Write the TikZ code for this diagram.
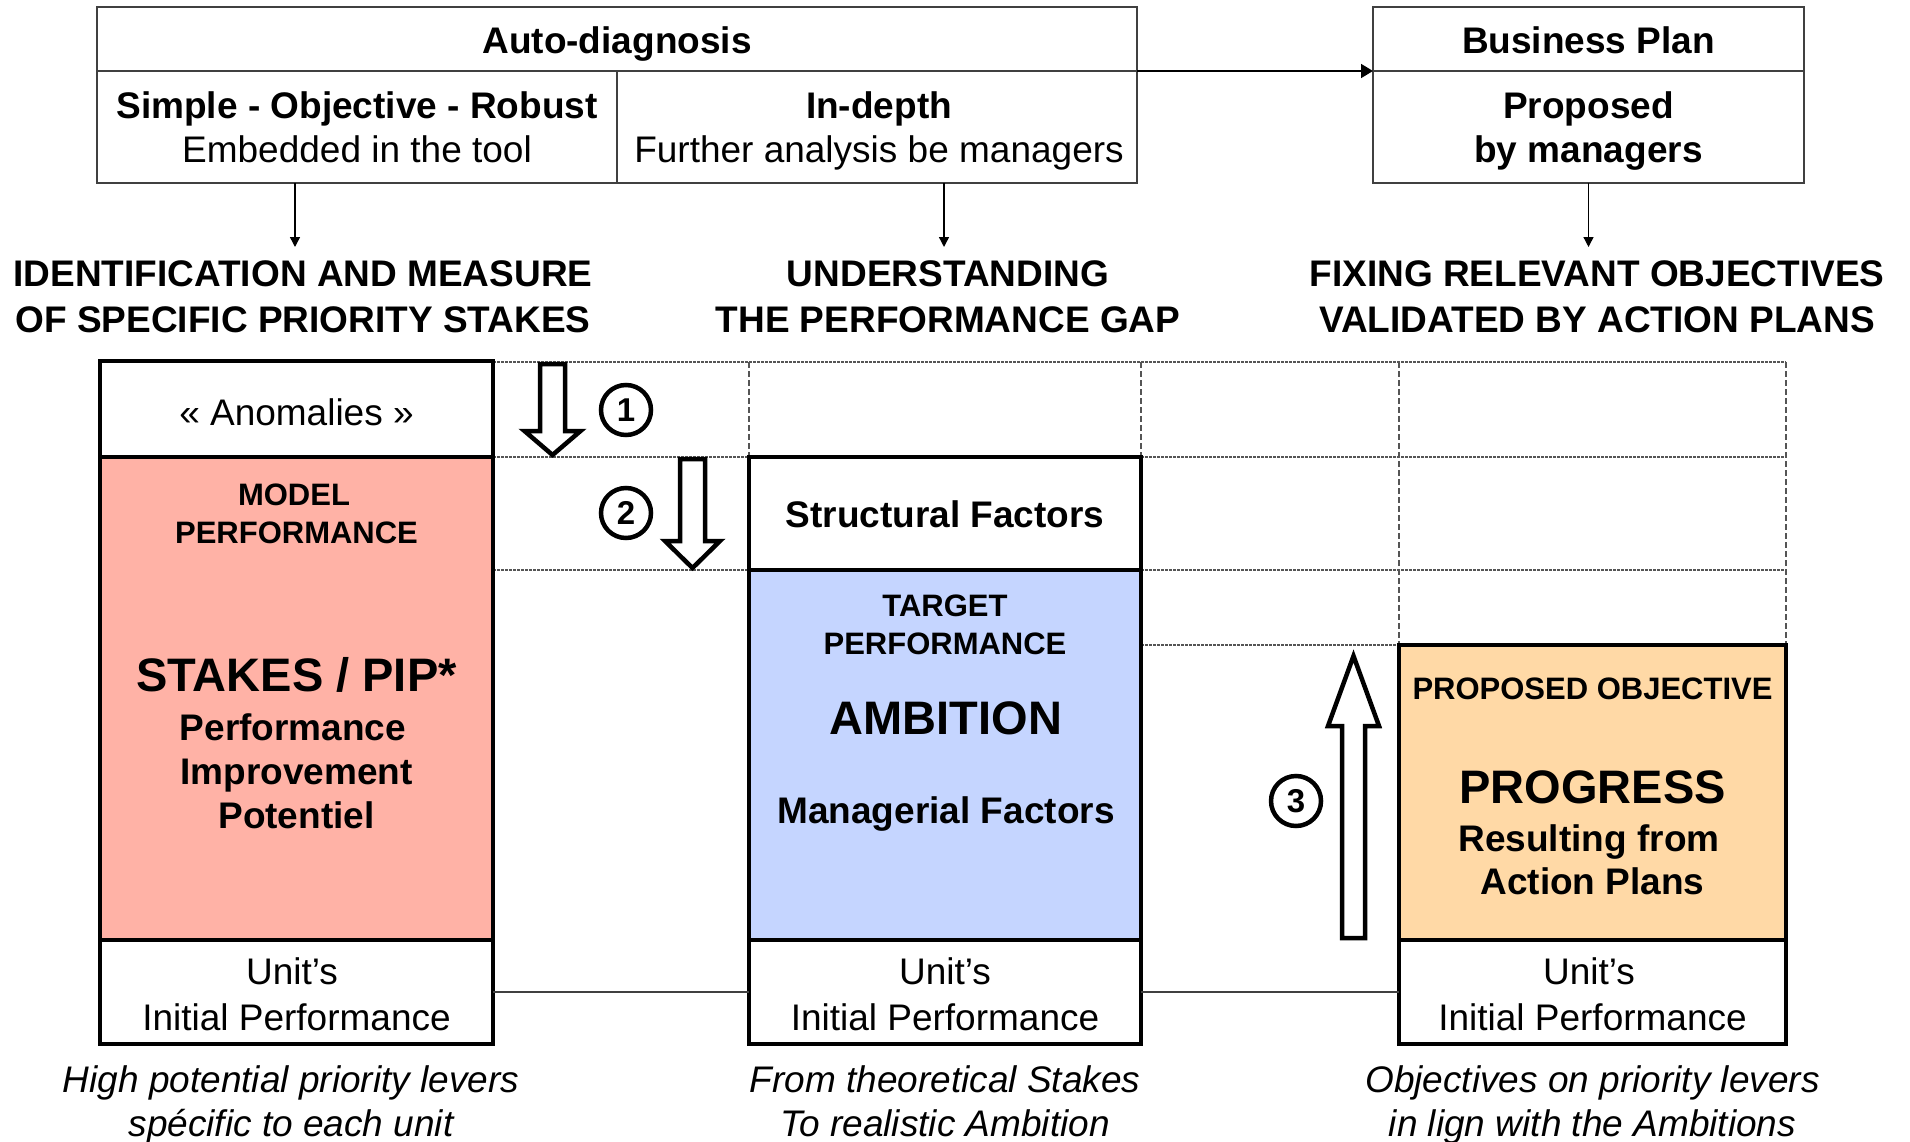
\documentclass[tikz,border=0pt]{standalone}
\usepackage{fontspec}
\setmainfont{Liberation Sans}
\usetikzlibrary{arrows.meta}
\definecolor{stakefill}{RGB}{255,178,166}
\definecolor{ambfill}{RGB}{197,213,255}
\definecolor{progfill}{RGB}{255,217,166}
\definecolor{framegray}{RGB}{64,64,64}
\definecolor{gridgray}{RGB}{85,85,85}
\begin{document}
\begin{tikzpicture}[x=1pt,y=-1pt,
  txt/.style={anchor=base, inner sep=0pt, font=\fontsize{37}{44}\selectfont},
  txtb/.style={txt, font=\fontsize{37}{44}\selectfont\bfseries},
  txtsmall/.style={txt, font=\fontsize{31}{38}\selectfont\bfseries},
  txtbig/.style={txt, font=\fontsize{47}{56}\selectfont\bfseries},
  txtit/.style={txt, font=\fontsize{37}{44}\selectfont\itshape},
  thinbox/.style={draw=framegray, line width=1.5pt, inner sep=0pt, outer sep=0pt},
  thickbox/.style={draw=black, line width=4.5pt, inner sep=0pt, outer sep=0pt},
  conn/.style={draw=black, line width=1.6pt, -{Triangle[length=12pt,width=14pt]}},
  smallconn/.style={draw=black, line width=1.4pt, -{Triangle[length=10pt,width=10pt]}},
  link/.style={draw=framegray, line width=1.5pt},
  gridh/.style={draw=gridgray, line width=1.3pt, dash pattern=on 2.5pt off 1.5pt},
  gridv/.style={draw=gridgray, line width=1.3pt, dash pattern=on 6pt off 3pt},
  blockarrow/.style={draw=black, fill=white, line width=4.5pt, line join=miter},
  numc/.style={circle, draw=black, line width=4.5pt, minimum size=50pt, inner sep=0pt,
    font=\fontsize{33}{33}\selectfont\bfseries}
]
\useasboundingbox (0,0) rectangle (1910,1142);

% ---------- top frames ----------
\node[thinbox, minimum width=1040pt, minimum height=64pt] (autohead) at (617,39) {};
\node[thinbox, minimum width=520pt, minimum height=112pt] (autoL) at (357,127) {};
\node[thinbox, minimum width=520pt, minimum height=112pt] (autoR) at (877,127) {};
\node[thinbox, minimum width=431pt, minimum height=64pt] (bphead) at (1588.5,39) {};
\node[thinbox, minimum width=431pt, minimum height=112pt] (bpbody) at (1588.5,127) {};

\node[txtb] (tAuto) at (617,54) {Auto-diagnosis};
\node[txtb] (tSimple) at (357,119) {Simple - Objective - Robust};
\node[txt]  (tEmbed) at (357,163) {Embedded in the tool};
\node[txtb] (tDepth) at (879,119) {In-depth};
\node[txt]  (tFurther) at (879,163) {Further analysis be managers};
\node[txtb] (tBP) at (1588.5,54) {Business Plan};
\node[txtb] (tProp) at (1588.5,119) {Proposed};
\node[txtb] (tByMan) at (1588.5,163) {by managers};

\draw[conn] (autohead.south east) -- (bphead.south west);

% ---------- headings ----------
\coordinate (tip1) at (295,247);
\coordinate (tip2) at (944,247);
\coordinate (tip3) at (1588.5,247);
\draw[smallconn] (autoL.south -| tip1) -- (tip1);
\draw[smallconn] (autoR.south -| tip2) -- (tip2);
\draw[smallconn] (bpbody.south -| tip3) -- (tip3);

\node[txtb] (h1a) at (303,286) {IDENTIFICATION AND MEASURE};
\node[txtb] (h1b) at (303,332) {OF SPECIFIC PRIORITY STAKES};
\node[txtb] (h2a) at (948,286) {UNDERSTANDING};
\node[txtb] (h2b) at (948,332) {THE PERFORMANCE GAP};
\node[txtb] (h3a) at (1597,286) {FIXING RELEVANT OBJECTIVES};
\node[txtb] (h3b) at (1597,332) {VALIDATED BY ACTION PLANS};

% ---------- guide grid ----------
\draw[gridh] (493,362) -- (1786,362);
\draw[gridh] (493,457) -- (1786,457);
\draw[gridh] (493,570) -- (1786,570);
\draw[gridh] (1141,645) -- (1399,645);
\draw[gridv] (749,362) -- (749,457);
\draw[gridv] (1141,362) -- (1141,457);
\draw[gridv] (1399,362) -- (1399,645);
\draw[gridv] (1786,362) -- (1786,645);

% ---------- performance columns ----------
\node[thickbox, fill=white, minimum width=393pt, minimum height=96pt] (lanom) at (296.5,409) {};
\node[thickbox, fill=stakefill, minimum width=393pt, minimum height=483pt] (lstake) at (296.5,698.5) {};
\node[thickbox, fill=white, minimum width=393pt, minimum height=104pt] (linit) at (296.5,992) {};

\node[thickbox, fill=white, minimum width=392pt, minimum height=113pt] (mstruct) at (945,513.5) {};
\node[thickbox, fill=ambfill, minimum width=392pt, minimum height=370pt] (mamb) at (945,755) {};
\node[thickbox, fill=white, minimum width=392pt, minimum height=104pt] (minit) at (945,992) {};

\node[thickbox, fill=progfill, minimum width=387pt, minimum height=295pt] (rprog) at (1592.5,792.5) {};
\node[thickbox, fill=white, minimum width=387pt, minimum height=104pt] (rinit) at (1592.5,992) {};

\draw[link] (linit.east) -- (minit.west);
\draw[link] (minit.east) -- (rinit.west);

% left column texts
\node[txt] (tAnom) at (296.5,425) {« Anomalies »};
\node[txtsmall] (tModel) at (294,505) {MODEL};
\node[txtsmall] (tModelPerf) at (296.5,543) {PERFORMANCE};
\node[txtbig] (tStakes) at (296.5,691) {STAKES / PIP*};
\node[txtb] (tPerf) at (293,740) {Performance};
\node[txtb] (tImpr) at (296.5,784) {Improvement};
\node[txtb] (tPot) at (296.5,828) {Potentiel};
\node[txt] (tUnitL) at (292,984) {Unit’s};
\node[txt] (tInitL) at (296.5,1030) {Initial Performance};
\node[txtit] (cL1) at (291,1092) {High potential priority levers};
\node[txtit] (cL2) at (291,1136) {spécific to each unit};

% middle column texts
\node[txtb] (tStruct) at (945,527) {Structural Factors};
\node[txtsmall] (tTarget) at (945,616) {TARGET};
\node[txtsmall] (tTargetPerf) at (945,654) {PERFORMANCE};
\node[txtbig] (tAmb) at (946,734) {AMBITION};
\node[txtb] (tMan) at (946,823) {Managerial Factors};
\node[txt] (tUnitM) at (945,984) {Unit’s};
\node[txt] (tInitM) at (945,1030) {Initial Performance};
\node[txtit] (cM1) at (945,1092) {From theoretical Stakes};
\node[txtit] (cM2) at (945,1136) {To realistic Ambition};

% right column texts
\node[txtsmall] (tPropObj) at (1592.5,699) {PROPOSED OBJECTIVE};
\node[txtbig] (tProg) at (1592.5,803) {PROGRESS};
\node[txtb] (tRes) at (1589,851) {Resulting from};
\node[txtb] (tAct) at (1592.5,894) {Action Plans};
\node[txt] (tUnitR) at (1589,984) {Unit’s};
\node[txt] (tInitR) at (1592.5,1030) {Initial Performance};
\node[txtit] (cR1) at (1592.5,1092) {Objectives on priority levers};
\node[txtit] (cR2) at (1592.5,1136) {in lign with the Ambitions};

% ---------- step arrows and numbers ----------
\draw[blockarrow] (540,364) -- (565,364) -- (565,431) -- (580.5,431) -- (552.5,455)
  -- (524.5,431) -- (540,431) -- cycle;
\draw[blockarrow] (680,459) -- (705,459) -- (705,541) -- (720,541) -- (692.5,568)
  -- (665,541) -- (680,541) -- cycle;
\draw[blockarrow] (1342,938) -- (1365,938) -- (1365,726) -- (1379,726) -- (1353.5,656)
  -- (1328,726) -- (1342,726) -- cycle;

\node[numc] (n1) at (626,410) {1};
\node[numc] (n2) at (626,513) {2};
\node[numc] (n3) at (1296,801) {3};
\end{tikzpicture}
\end{document}
